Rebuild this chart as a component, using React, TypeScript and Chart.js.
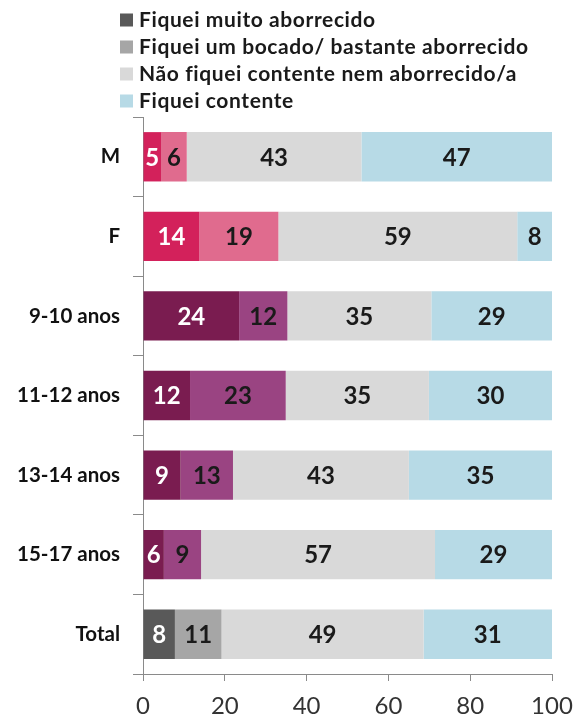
import React, { useEffect, useRef } from 'react';
import { Chart, registerables } from 'chart.js';

Chart.register(...registerables);

const categories = ['M', 'F', '9-10 anos', '11-12 anos', '13-14 anos', '15-17 anos', 'Total'];
const seriesNames = [
  'Fiquei muito aborrecido',
  'Fiquei um bocado/ bastante aborrecido',
  'Não fiquei contente nem aborrecido/a',
  'Fiquei contente',
];
// bar lengths
const muitoValues = [4.4, 13.8, 23.5, 11.5, 9.2, 5.1, 7.8];
const bocadoValues = [6.3, 19.3, 11.8, 23.4, 12.8, 9.1, 11.4];
const nemValues = [42.7, 58.4, 35.2, 35.0, 43.0, 57.2, 49.4];
const contenteValues = [46.6, 8.5, 29.5, 30.1, 35.0, 28.6, 31.4];
// printed labels
const muitoLabels = [5, 14, 24, 12, 9, 6, 8];
const bocadoLabels = [6, 19, 12, 23, 13, 9, 11];
const nemLabels = [43, 59, 35, 35, 43, 57, 49];
const contenteLabels = [47, 8, 29, 30, 35, 29, 31];
const xTicks = [0, 20, 40, 60, 80, 100];

const muitoColors = ['#d3215b', '#d3215b', '#7a1c50', '#7a1c50', '#7a1c50', '#7a1c50', '#595959'];
const bocadoColors = ['#e06b8e', '#e06b8e', '#9a4482', '#9a4482', '#9a4482', '#9a4482', '#a6a6a6'];
const nemColor = '#d9d9d9';
const contenteColor = '#b7dae6';
const legendColors = ['#595959', '#a6a6a6', '#d9d9d9', '#b7dae6'];
const labelColors = ['#ffffff', '#1a1a1a', '#1a1a1a', '#1a1a1a'];

const allLabels = [muitoLabels, bocadoLabels, nemLabels, contenteLabels];

const dataLabelPlugin = {
  id: 'dataLabels',
  afterDatasetsDraw(chart: any) {
    const ctx = chart.ctx;
    ctx.save();
    ctx.font = 'bold 24px Lato';
    ctx.textAlign = 'center';
    ctx.textBaseline = 'middle';
    chart.data.datasets.forEach((ds: any, di: number) => {
      const meta = chart.getDatasetMeta(di);
      meta.data.forEach((el: any, i: number) => {
        const cx = (el.x + el.base) / 2;
        ctx.fillStyle = labelColors[di];
        ctx.fillText(String(allLabels[di][i]), cx, el.y + 1);
      });
    });
    ctx.restore();
  },
};

const legendPlugin = {
  id: 'customLegend',
  afterDraw(chart: any) {
    const ctx = chart.ctx;
    ctx.save();
    ctx.font = 'bold 21px Lato';
    try {
      (ctx as any).letterSpacing = '0.6px';
    } catch (e) {}
    ctx.textAlign = 'left';
    ctx.textBaseline = 'middle';
    seriesNames.forEach((name, i) => {
      const cy = 20 + i * 27;
      ctx.fillStyle = legendColors[i];
      ctx.fillRect(120, cy - 6.5, 13, 13);
      ctx.fillStyle = '#1a1a1a';
      ctx.fillText(name, 139, cy);
    });
    ctx.restore();
  },
};

export default function App() {
  const ref = useRef<HTMLCanvasElement | null>(null);
  useEffect(() => {
    if (!ref.current) return;
    const common = { barPercentage: 0.62, categoryPercentage: 1, borderWidth: 0 };
    const chart = new Chart(ref.current, {
      type: 'bar',
      data: {
        labels: categories,
        datasets: [
          { label: seriesNames[0], data: muitoValues, backgroundColor: muitoColors, ...common },
          { label: seriesNames[1], data: bocadoValues, backgroundColor: bocadoColors, ...common },
          { label: seriesNames[2], data: nemValues, backgroundColor: nemColor, ...common },
          { label: seriesNames[3], data: contenteValues, backgroundColor: contenteColor, ...common },
        ],
      },
      options: {
        indexAxis: 'y',
        responsive: false,
        animation: false,
        layout: { padding: { top: 117, right: 0, left: 0, bottom: 0 } },
        plugins: { legend: { display: false }, tooltip: { enabled: false } },
        scales: {
          x: {
            stacked: true,
            min: 0,
            max: 100,
            afterBuildTicks: (s: any) => {
              s.ticks = xTicks.map((v) => ({ value: v }));
            },
            ticks: { font: { family: 'Lato', size: 24 }, color: '#333333', padding: 11 },
            grid: { drawOnChartArea: false, tickLength: 7, color: '#8a8a8a' },
            border: { color: '#8a8a8a' },
            afterFit: (s: any) => {
              s.height = 45;
              s.paddingRight = 22;
            },
          },
          y: {
            stacked: true,
            ticks: { font: { family: 'Lato', size: 20.5, weight: 'bold' }, color: '#111111', padding: 13 },
            grid: { drawOnChartArea: false, tickLength: 10, color: '#8a8a8a', offset: true },
            border: { color: '#8a8a8a' },
            afterFit: (s: any) => {
              s.width = 143;
            },
          },
        },
      } as any,
      plugins: [dataLabelPlugin, legendPlugin],
    });
    return () => chart.destroy();
  }, []);
  return (
    <div style={{ position: 'absolute', left: 0, top: 0, width: 574, height: 719, background: '#fff' }}>
      <canvas ref={ref} width={574} height={719} style={{ display: 'block' }} />
    </div>
  );
}
